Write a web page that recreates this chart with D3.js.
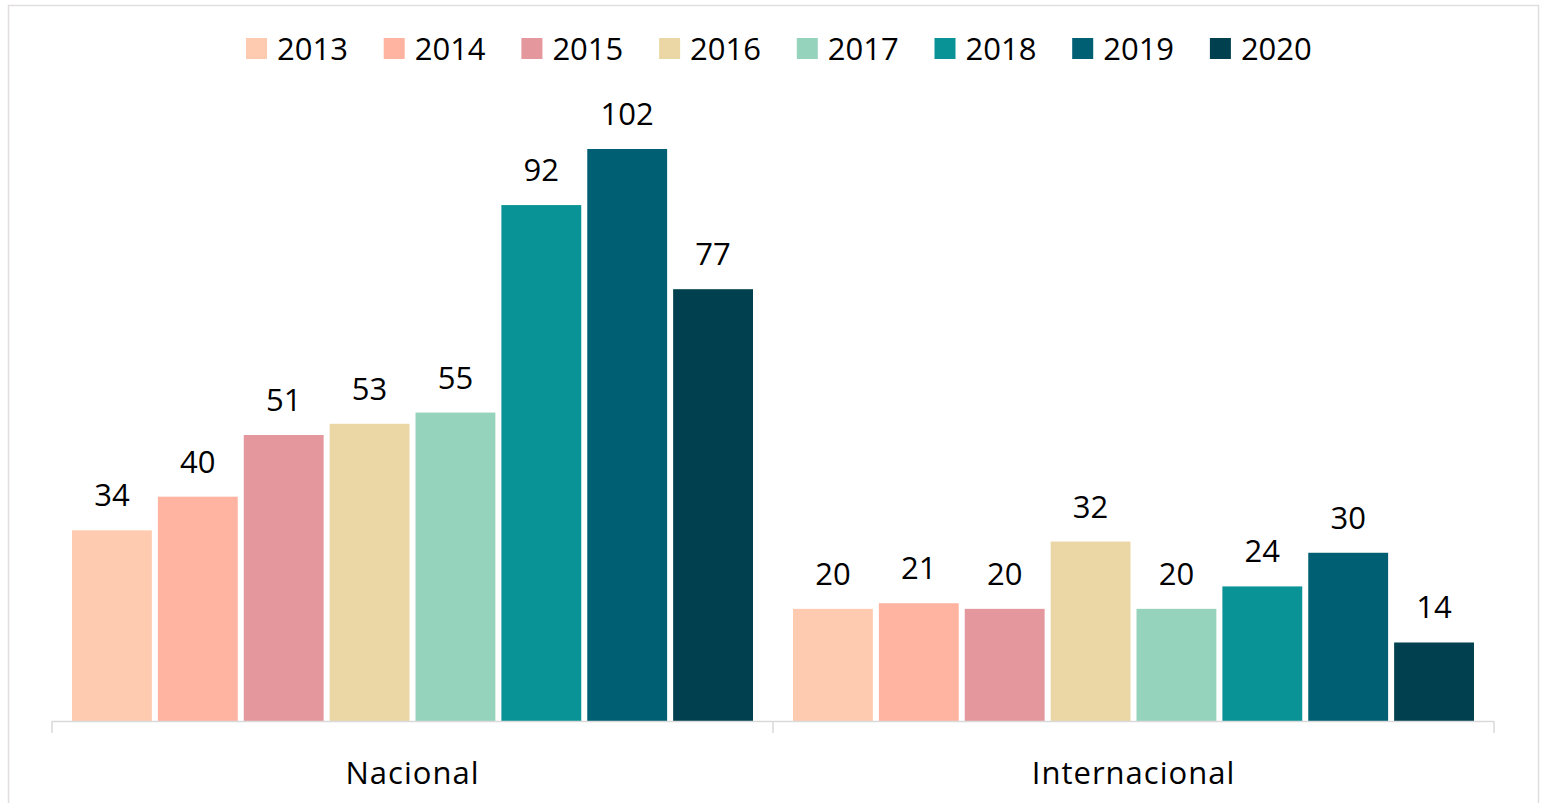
<!DOCTYPE html>
<html>
<head>
<meta charset="utf-8">
<script src="https://cdn.jsdelivr.net/npm/d3@7"></script>
<style>
  body { margin: 0; background: #fff; }
  text { font-family: "Open Sans", sans-serif; fill: #000; }
</style>
</head>
<body>
<div id="chart"></div>
<script>
// data
const categories = ["Nacional", "Internacional"];
const years = ["2013", "2014", "2015", "2016", "2017", "2018", "2019", "2020"];
const nacional = [34, 40, 51, 53, 55, 92, 102, 77];
const internacional = [20, 21, 20, 32, 20, 24, 30, 14];
const colors = ["#ffcbb0", "#ffb3a1", "#e4979c", "#ead7a5", "#96d3bd", "#0a9396", "#005f73", "#01414f"];

const seriesByCat = { Nacional: nacional, Internacional: internacional };

const W = 1543, H = 803;
const svg = d3.select("#chart").append("svg")
  .attr("width", W).attr("height", H);

// outer frame
svg.append("rect")
  .attr("x", 8.5).attr("y", 5.5)
  .attr("width", 1530).attr("height", 820)
  .attr("fill", "none")
  .attr("stroke", "#e3dede")
  .attr("stroke-width", 1.5);

const baseY = 721;

const x0 = d3.scaleBand().domain(categories).range([52, 1494]).padding(0);
const x1 = d3.scaleBand().domain(years)
  .range([20, x0.bandwidth() - 20])
  .paddingInner(0.07).paddingOuter(0);
const y = d3.scaleLinear().domain([0, 102]).range([baseY, 149]);
const color = d3.scaleOrdinal().domain(years).range(colors);

// bars
categories.forEach((cat) => {
  const g = svg.append("g").attr("transform", `translate(${x0(cat)},0)`);
  const vals = seriesByCat[cat];
  years.forEach((yr, i) => {
    g.append("rect")
      .attr("x", x1(yr))
      .attr("y", y(vals[i]))
      .attr("width", x1.bandwidth())
      .attr("height", y(0) - y(vals[i]))
      .attr("fill", color(yr));
    g.append("text")
      .attr("x", x1(yr) + x1.bandwidth() / 2)
      .attr("y", y(vals[i]) - 24)
      .attr("text-anchor", "middle")
      .attr("font-size", 31)
      .text(vals[i]);
  });
});

// category axis
const axis = svg.append("g");
axis.append("line")
  .attr("x1", 52).attr("x2", 1494)
  .attr("y1", baseY + 0.5).attr("y2", baseY + 0.5)
  .attr("stroke", "#d9d9d9").attr("stroke-width", 1.5);
const edges = categories.map((c) => x0(c)).concat([x0.range()[1]]);
edges.forEach((ex) => {
  axis.append("line")
    .attr("x1", ex).attr("x2", ex)
    .attr("y1", baseY).attr("y2", baseY + 12)
    .attr("stroke", "#d9d9d9").attr("stroke-width", 1.5);
});
categories.forEach((cat) => {
  axis.append("text")
    .attr("x", x0(cat) + x0.bandwidth() / 2)
    .attr("y", 784)
    .attr("text-anchor", "middle")
    .attr("font-size", 31)
    .attr("letter-spacing", 1)
    .text(cat);
});

// legend
const legendStart = 246, legendStep = 137.7;
const legend = svg.append("g");
years.forEach((yr, i) => {
  const lx = legendStart + i * legendStep;
  legend.append("rect")
    .attr("x", lx).attr("y", 38)
    .attr("width", 21).attr("height", 21)
    .attr("fill", color(yr));
  legend.append("text")
    .attr("x", lx + 31)
    .attr("y", 60)
    .attr("font-size", 31)
    .text(yr);
});
</script>
</body>
</html>
